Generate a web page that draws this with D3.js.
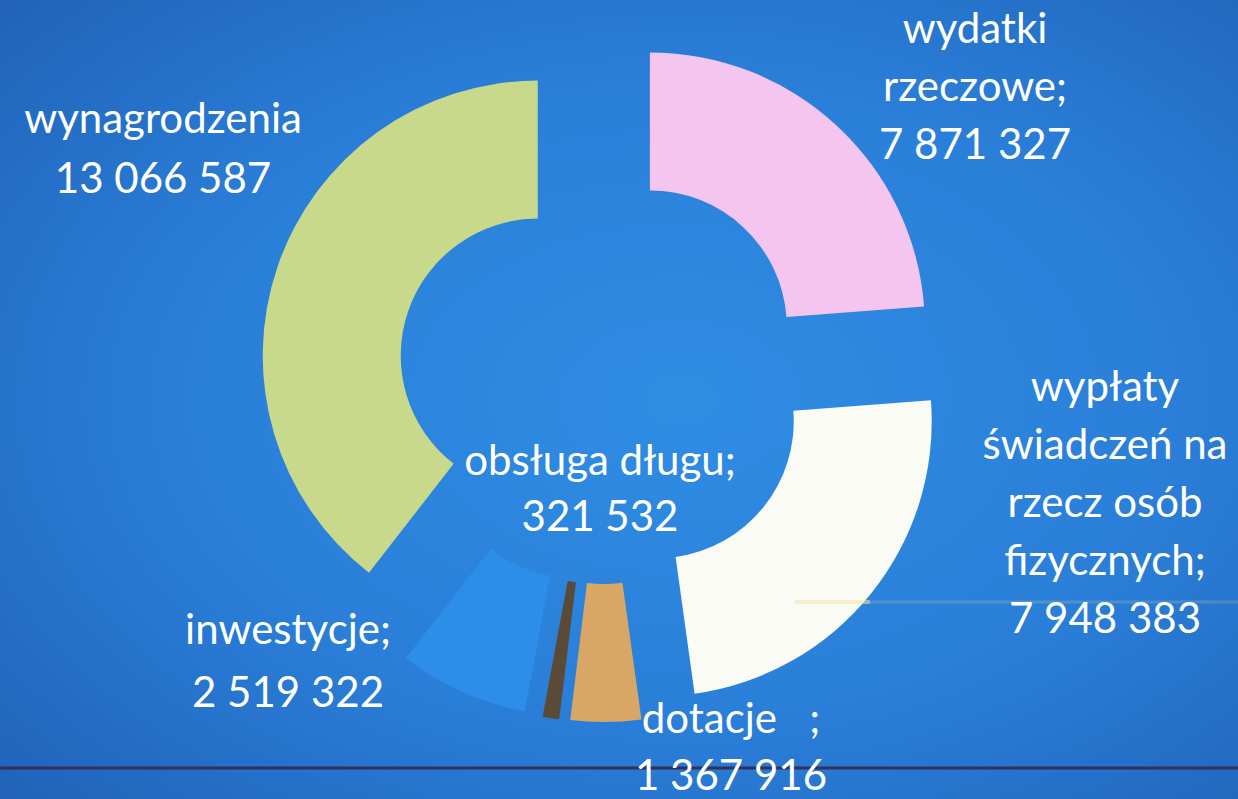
<!DOCTYPE html>
<html>
<head>
<meta charset="utf-8">
<script src="https://cdn.jsdelivr.net/npm/d3@7"></script>
<style>
  html, body { margin: 0; padding: 0; background: #2a78d4; }
  svg { display: block; }
</style>
</head>
<body>
<div id="chart"></div>
<script>
const width = 1238,
    height = 799;

// data
const categories = ["wydatki rzeczowe", "wypłaty świadczeń na rzecz osób fizycznych", "dotacje", "obsługa długu", "inwestycje", "wynagrodzenia"];
const values = [7871327, 7948383, 1367916, 321532, 2519322, 13066587];
const labelLines = [
    ["wydatki", "rzeczowe;"],
    ["wypłaty", "świadczeń na", "rzecz osób", "fizycznych;"],
    ["dotacje   ;"],
    ["obsługa długu;"],
    ["inwestycje;"],
    ["wynagrodzenia"]
];

// styles / layout
const colors = ["#f4c5ee", "#fbfbf6", "#d9a765", "#5b4a37", "#2c8ee8", "#c9d98b"];
const labelPos = [
    {x: 975, y: 43, step: 58},
    {x: 1105, y: 401, step: 58},
    {x: 731, y: 733, step: 57},
    {x: 600, y: 475, step: 56},
    {x: 288, y: 644, step: 63},
    {x: 163, y: 133, step: 60}
];

const cx = 603, cy = 378, outerR = 275, innerR = 137, explode = 69;

const fmt = d3.formatLocale({decimal: ",", thousands: " ", grouping: [3], currency: ["", ""]}).format(",");

const data = categories.map((c, i) => ({name: c, value: values[i], i: i}));

const svg = d3.select("#chart")
  .append("svg")
  .attr("width", width)
  .attr("height", height)
  .attr("viewBox", [0, 0, width, height]);

// background like the projected slide
const defs = svg.append("defs");
const grad = defs.append("radialGradient")
    .attr("id", "bg")
    .attr("cx", 0.55).attr("cy", 0.5).attr("r", 0.75);
grad.append("stop").attr("offset", "0%").attr("stop-color", "#2f8de4");
grad.append("stop").attr("offset", "55%").attr("stop-color", "#2a7ed8");
grad.append("stop").attr("offset", "100%").attr("stop-color", "#2062b8");

svg.append("rect")
    .attr("width", width).attr("height", height)
    .attr("fill", "url(#bg)");

// faint lines from the photo
svg.append("line")
    .attr("x1", 795).attr("x2", width)
    .attr("y1", 602).attr("y2", 602)
    .attr("stroke", "#f2eaa0").attr("stroke-opacity", 0.18)
    .attr("stroke-width", 3);
svg.append("line")
    .attr("x1", 0).attr("x2", width)
    .attr("y1", 768).attr("y2", 768)
    .attr("stroke", "#352f5a").attr("stroke-width", 3);

const pie = d3.pie()
    .sort(null)
    .value(d => d.value)
    .startAngle(0)
    .endAngle(2 * Math.PI);

const arc = d3.arc()
    .innerRadius(innerR)
    .outerRadius(outerR);

const g = svg.append("g")
    .attr("transform", `translate(${cx},${cy})`);

g.selectAll(".slice")
    .data(pie(data))
    .enter().append("path")
    .attr("class", "slice")
    .attr("d", arc)
    .attr("fill", d => colors[d.data.i])
    .attr("transform", function(d) {
        const mid = (d.startAngle + d.endAngle) / 2;
        return `translate(${Math.sin(mid) * explode},${-Math.cos(mid) * explode})`;
    });

// the yellowish streak shows over the white slice too
svg.append("line")
    .attr("x1", 795).attr("x2", 870)
    .attr("y1", 602).attr("y2", 602)
    .attr("stroke", "#efe6a0").attr("stroke-opacity", 0.5)
    .attr("stroke-width", 4);

// labels
const labels = svg.selectAll(".lbl")
    .data(data)
    .enter().append("text")
    .attr("class", "lbl")
    .attr("text-anchor", "middle")
    .attr("font-family", "Lato, 'Open Sans', sans-serif")
    .attr("font-size", 42)
    .attr("fill", "#ffffff")
    .attr("xml:space", "preserve");

labels.each(function(d) {
    const p = labelPos[d.i];
    const lines = labelLines[d.i].concat([fmt(d.value)]);
    d3.select(this).selectAll("tspan")
        .data(lines)
        .enter().append("tspan")
        .attr("x", p.x)
        .attr("y", (t, k) => p.y + k * p.step)
        .text(t => t);
});
</script>
</body>
</html>
